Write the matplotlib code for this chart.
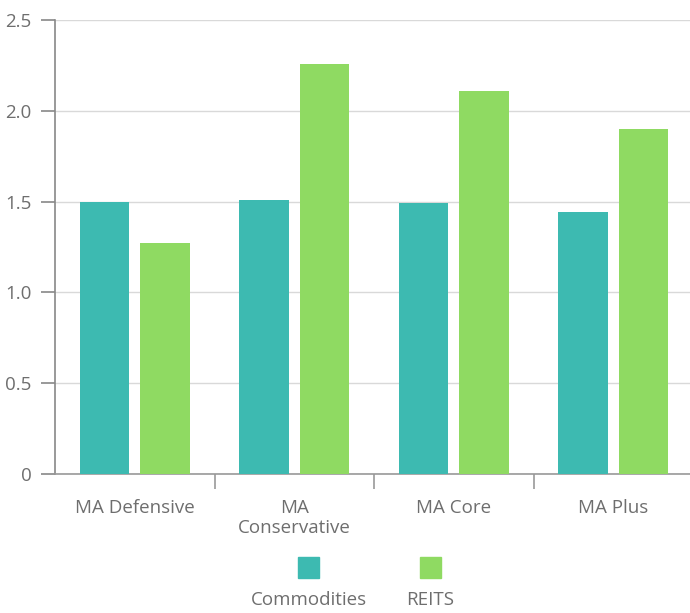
import matplotlib
matplotlib.use("Agg")
import matplotlib.pyplot as plt
from matplotlib.patches import Rectangle
import numpy as np

categories = ["MA Defensive", "MA\nConservative", "MA Core", "MA Plus"]
series_names = ["Commodities", "REITS"]
commodities = [1.50, 1.51, 1.49, 1.44]
reits = [1.27, 2.26, 2.11, 1.90]
y_ticks = [0, 0.5, 1.0, 1.5, 2.0, 2.5]
y_tick_labels = ["0", "0.5", "1.0", "1.5", "2.0", "2.5"]

colors = ["#3dbab1", "#8fda62"]
text_color = "#6e6e6e"
font_size = 13.5
plt.rcParams["font.family"] = ["Open Sans", "DejaVu Sans"]

W, H = 690, 613
fig = plt.figure(figsize=(W / 100, H / 100), dpi=100)
ax = fig.add_axes([55 / W, 1 - 474 / H, (693 - 55) / W, (474 - 20) / H])

x = np.arange(len(categories))
width = 0.31
offset = 0.19
ax.bar(x - offset, commodities, width, color=colors[0], zorder=3)
ax.bar(x + offset, reits, width, color=colors[1], zorder=3)

ax.set_xlim(-0.5, len(categories) - 0.5)
ax.set_ylim(0, 2.5)

ax.set_yticks(y_ticks)
ax.set_yticklabels(y_tick_labels)
ax.yaxis.grid(True, color="#d9d9d9", linewidth=1, zorder=0)
ax.set_axisbelow(True)

# category labels at centers, tick marks at category boundaries
ax.set_xticks(x)
ax.set_xticklabels(categories, linespacing=1.17)
ax.set_xticks(np.arange(0.5, len(categories) - 1, 1.0), minor=True)
ax.tick_params(axis="x", which="major", length=0, pad=18, labelsize=font_size,
               labelcolor=text_color)
ax.tick_params(axis="x", which="minor", length=11, width=1.2, color="#999999")
ax.tick_params(axis="y", length=10, width=1.2, color="#888888", pad=7,
               labelsize=font_size, labelcolor=text_color)

for s in ["top", "right"]:
    ax.spines[s].set_visible(False)
ax.spines["left"].set_color("#888888")
ax.spines["left"].set_linewidth(1.2)
ax.spines["bottom"].set_color("#999999")
ax.spines["bottom"].set_linewidth(1.2)

# legend: swatch above its label
legend_centers = [308.5, 430.5]
for cx, name, col in zip(legend_centers, series_names, colors):
    fig.add_artist(Rectangle(((cx - 10.5) / W, 1 - 578 / H), 21 / W, 21 / H,
                             transform=fig.transFigure, color=col))
    fig.text(cx / W, 1 - 600 / H, name, ha="center", va="center",
             fontsize=font_size, color=text_color)

fig.savefig("out.png", dpi=100)
